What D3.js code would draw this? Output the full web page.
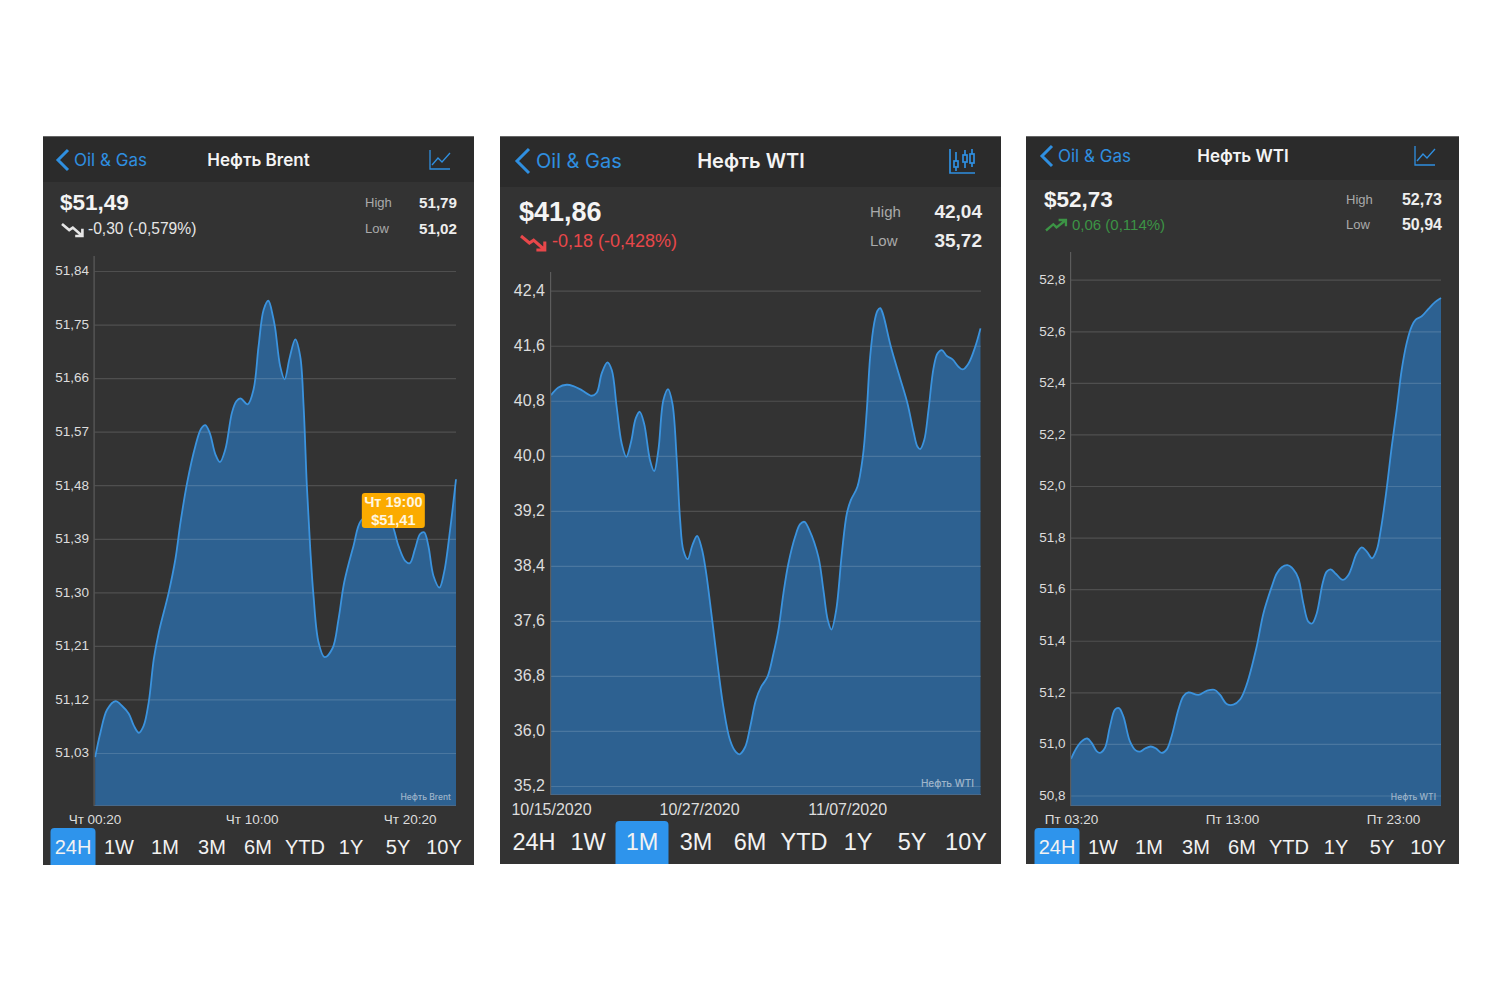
<!DOCTYPE html>
<html>
<head>
<meta charset="utf-8">
<script src="https://cdn.jsdelivr.net/npm/d3@7"></script>
<style>
  html, body { margin: 0; background: #fff; }
  svg { display: block; font-family: "Liberation Sans", Arial, sans-serif; }
  .nav { font-family: Inter, sans-serif; }
</style>
</head>
<body>
<svg id="chart" width="1500" height="1000"></svg>
<script>
const rangeButtons = ['24H', '1W', '1M', '3M', '6M', 'YTD', '1Y', '5Y', '10Y'];

// Brent, hours after 00:20
const brentHours = [0.04, 0.37, 0.78, 1.29, 1.7, 2.11, 2.42, 2.73, 3.03, 3.34, 3.65, 3.96, 4.57, 4.98, 5.29, 5.7, 6.21, 6.56, 6.82, 7.09, 7.44, 7.72, 8.05, 8.46, 8.73, 8.98, 9.43, 9.79, 10.1, 10.41, 10.7, 10.98, 11.13, 11.43, 11.7, 12.01, 12.36, 12.66, 12.87, 13.07, 13.28, 13.48, 13.79, 14.16, 14.65, 15.02, 15.37, 15.94, 16.39, 17.17, 17.79, 18.3, 18.71, 19.12, 19.41, 19.73, 20.04, 20.29, 20.55, 20.86, 21.23, 21.52, 21.89, 22.25];
const brentValues = [51.023, 51.065, 51.103, 51.117, 51.109, 51.096, 51.076, 51.064, 51.076, 51.116, 51.188, 51.233, 51.3, 51.356, 51.417, 51.484, 51.546, 51.575, 51.581, 51.568, 51.532, 51.519, 51.54, 51.602, 51.621, 51.626, 51.616, 51.641, 51.714, 51.775, 51.79, 51.764, 51.742, 51.68, 51.658, 51.694, 51.725, 51.697, 51.613, 51.479, 51.373, 51.294, 51.216, 51.191, 51.206, 51.255, 51.317, 51.378, 51.42, 51.435, 51.433, 51.415, 51.378, 51.353, 51.349, 51.373, 51.398, 51.401, 51.378, 51.328, 51.308, 51.334, 51.406, 51.49];
const brentTicks = [51.03, 51.12, 51.21, 51.30, 51.39, 51.48, 51.57, 51.66, 51.75, 51.84];
const brentDateTicks = [0, 9.67, 19.4];
const brentDateLabels = ['Чт 00:20', 'Чт 10:00', 'Чт 20:20'];

// WTI month view, days after 10/15
const wtiMonthDays = [0, 0.57, 1.22, 1.74, 2.38, 3.16, 3.55, 3.94, 4.38, 4.72, 5.1, 5.49, 5.85, 6.22, 6.58, 6.89, 7.23, 7.69, 8.01, 8.34, 8.73, 9.09, 9.43, 9.77, 10.03, 10.28, 10.62, 10.98, 11.35, 11.71, 12.02, 12.49, 13, 13.39, 13.91, 14.35, 14.64, 15.08, 15.47, 15.91, 16.32, 16.81, 17.28, 17.66, 18.05, 18.44, 18.96, 19.35, 19.69, 20.07, 20.77, 21.16, 21.5, 21.78, 22.15, 22.59, 22.98, 23.29, 23.8, 24.22, 24.53, 24.79, 25.1, 25.36, 25.57, 25.77, 26.4, 27.12, 27.69, 28.16, 28.47, 28.68, 28.99, 29.32, 29.71, 30.02, 30.36, 30.75, 31.19, 31.65, 31.99, 32.43, 32.95, 33.36];
const wtiMonthValues = [40.882, 40.994, 41.033, 41.013, 40.955, 40.873, 40.916, 41.198, 41.358, 41.246, 40.713, 40.18, 39.985, 40.204, 40.543, 40.64, 40.47, 39.937, 39.777, 40.082, 40.81, 40.97, 40.761, 39.937, 39.064, 38.628, 38.497, 38.7, 38.836, 38.652, 38.337, 37.658, 36.882, 36.349, 35.864, 35.695, 35.661, 35.767, 36.058, 36.446, 36.64, 36.785, 37.125, 37.464, 37.998, 38.434, 38.822, 39.006, 39.04, 38.919, 38.531, 38.046, 37.61, 37.474, 37.755, 38.58, 39.161, 39.355, 39.549, 39.985, 40.664, 41.44, 41.925, 42.109, 42.148, 42.07, 41.585, 41.125, 40.761, 40.349, 40.131, 40.097, 40.228, 40.664, 41.27, 41.488, 41.537, 41.45, 41.401, 41.295, 41.256, 41.343, 41.585, 41.852];
const wtiMonthTicks = [35.2, 36.0, 36.8, 37.6, 38.4, 39.2, 40.0, 40.8, 41.6, 42.4];
const wtiMonthDateTicks = [0, 11.5, 23];
const wtiMonthDateLabels = ['10/15/2020', '10/27/2020', '11/07/2020'];

// WTI day view, hours after 03:20
const wtiDayHours = [0, 0.35, 0.66, 1.01, 1.28, 1.59, 1.8, 2.11, 2.42, 2.73, 2.98, 3.25, 3.66, 4.02, 4.29, 4.6, 4.95, 5.26, 5.63, 5.94, 6.25, 6.67, 6.98, 7.29, 7.91, 8.43, 8.9, 9.25, 9.67, 10.08, 10.5, 10.91, 11.53, 11.95, 12.47, 12.78, 13.09, 13.44, 13.81, 14.12, 14.43, 14.74, 14.97, 15.26, 15.63, 15.88, 16.13, 16.46, 16.88, 17.23, 17.75, 18.06, 18.37, 18.7, 18.99, 19.24, 19.57, 19.92, 20.23, 20.54, 20.85, 21.16, 21.41, 21.78, 22.2, 22.61, 22.98];
const wtiDayValues = [50.942, 50.985, 51.01, 51.021, 51.004, 50.972, 50.965, 50.985, 51.068, 51.133, 51.139, 51.107, 51.01, 50.975, 50.97, 50.982, 50.99, 50.983, 50.965, 50.978, 51.03, 51.133, 51.185, 51.2, 51.19, 51.206, 51.21, 51.191, 51.155, 51.152, 51.172, 51.23, 51.377, 51.506, 51.61, 51.661, 51.685, 51.693, 51.677, 51.642, 51.545, 51.474, 51.467, 51.506, 51.623, 51.668, 51.677, 51.659, 51.636, 51.655, 51.739, 51.762, 51.746, 51.72, 51.752, 51.83, 51.972, 52.153, 52.296, 52.451, 52.555, 52.619, 52.645, 52.658, 52.687, 52.713, 52.729];
const wtiDayTicks = [50.8, 51.0, 51.2, 51.4, 51.6, 51.8, 52.0, 52.2, 52.4, 52.6, 52.8];
const wtiDayDateTicks = [0, 10, 20];
const wtiDayDateLabels = ['Пт 03:20', 'Пт 13:00', 'Пт 23:00'];

const BLUE = '#2f8fe0';
const lineIcon = 'M0 0V19H20 M2 15L8 8L12 12L20 3';
const trendDown = 'M0 0L6 5L9 3L17 10 M17 4V10H11';
const trendUp = 'M0 10L7 4L10 7L19 0 M12 0H19V6';

const svg = d3.select('#chart');
const comma = s => String(s).replace('.', ',');

// one phone screen
function drawPanel(p) {
  const g = svg.append('g');
  const f = p.fonts;

  g.append('rect').attr('x', p.x0).attr('y', 136).attr('width', p.x1 - p.x0).attr('height', p.y1 - 136).attr('fill', '#333333');
  g.append('rect').attr('x', p.x0).attr('y', 136).attr('width', p.x1 - p.x0).attr('height', p.headerBottom - 136).attr('fill', '#2b2b2b');
  g.append('rect').attr('x', p.x0).attr('y', 136).attr('width', p.x1 - p.x0).attr('height', 1).attr('fill', '#666');

  // nav bar
  g.append('path').attr('d', `M${p.back[0] + p.back[2]} ${p.back[1] - p.back[3]}L${p.back[0]} ${p.back[1]}L${p.back[0] + p.back[2]} ${p.back[1] + p.back[3]}`)
    .attr('fill', 'none').attr('stroke', BLUE).attr('stroke-width', 3);
  g.append('text').attr('class', 'nav').attr('x', p.backText).attr('y', p.navY).attr('dy', '0.35em').attr('font-size', f.nav).attr('fill', BLUE).text('Oil & Gas');
  g.append('text').attr('class', 'nav').attr('x', p.titleX).attr('y', p.navY).attr('dy', '0.35em').attr('text-anchor', 'middle').attr('font-size', f.nav).attr('font-weight', 600).attr('fill', '#f4f4f4').text(p.title);

  if (p.candles) {
    const ic = g.append('g').attr('transform', `translate(${p.iconX},${p.iconY})`).attr('fill', 'none').attr('stroke', BLUE).attr('stroke-width', 1.7);
    ic.append('path').attr('d', 'M0 0V24H25');
    [[6, 12, 6, 3, 22], [15, 6, 7, 1, 19], [22, 5, 9, 0, 18]].forEach(c => {
      ic.append('path').attr('d', `M${c[0]} ${c[3]}V${c[4]}`);
      ic.append('rect').attr('x', c[0] - 2).attr('y', c[1]).attr('width', 4).attr('height', c[2]).attr('fill', '#2b2b2b');
    });
  } else {
    g.append('path').attr('transform', `translate(${p.iconX},${p.iconY})`).attr('d', lineIcon).attr('fill', 'none').attr('stroke', BLUE).attr('stroke-width', 1.3);
  }

  // quote block
  g.append('text').attr('x', p.priceX).attr('y', p.priceY).attr('dy', '0.33em').attr('font-size', f.price).attr('font-weight', 700).attr('fill', '#f4f4f4').text(p.price);
  g.append('path').attr('transform', `translate(${p.priceX + 2},${p.changeY - 5}) scale(${p.arrowScale})`).attr('d', p.up ? trendUp : trendDown)
    .attr('fill', 'none').attr('stroke', p.changeColor).attr('stroke-width', 2.2);
  g.append('text').attr('x', p.changeX).attr('y', p.changeY).attr('dy', '0.35em').attr('font-size', f.change).attr('fill', p.changeColor).text(p.change);
  [['High', p.high, p.priceY], ['Low', p.low, p.changeY]].forEach(r => {
    g.append('text').attr('x', p.hiLoX).attr('y', r[2]).attr('dy', '0.3em').attr('font-size', f.hiLo).attr('fill', '#aaaaaa').text(r[0]);
    g.append('text').attr('x', p.plotR + 1).attr('y', r[2]).attr('dy', '0.32em').attr('text-anchor', 'end').attr('font-size', f.hiLoValue).attr('font-weight', 700).attr('fill', '#eeeeee').text(r[1]);
  });

  // scales
  const x = d3.scaleLinear().domain([0, p.xMax]).range([p.plotL, p.plotR]);
  const y = d3.scaleLinear().domain([p.ticks[0], p.ticks[p.ticks.length - 1]]).range([p.yLow, p.yHigh]);
  const rows = p.xs.map((d, i) => [d, p.values[i]]);

  const area = d3.area().x(d => x(d[0])).y0(p.plotB).y1(d => y(d[1])).curve(d3.curveCatmullRom.alpha(0.5));
  const line = d3.line().x(d => x(d[0])).y(d => y(d[1])).curve(d3.curveCatmullRom.alpha(0.5));

  g.append('path').attr('d', area(rows)).attr('fill', '#2d6191');

  // grid + y labels
  const yAxis = g.append('g').attr('transform', `translate(${p.plotL},0)`)
    .call(d3.axisLeft(y).tickValues(p.ticks).tickSize(-(p.plotR - p.plotL)).tickPadding(p.yPad).tickFormat(d => comma(d.toFixed(p.decimals))));
  yAxis.select('.domain').remove();
  yAxis.selectAll('line').attr('stroke', '#fff').attr('stroke-opacity', 0.14).attr('stroke-width', 1.2);
  yAxis.selectAll('text').attr('dy', '0.28em').attr('font-size', f.tick).attr('font-family', '"Liberation Sans"').attr('fill', '#dddddd');

  g.append('path').attr('d', line(rows)).attr('fill', 'none').attr('stroke', '#3b93de').attr('stroke-width', 1.8);
  g.append('rect').attr('x', p.plotL - 1).attr('y', p.plotTop).attr('width', 1.2).attr('height', p.plotB - p.plotTop).attr('fill', '#5c5c5c');
  g.append('rect').attr('x', p.plotL).attr('y', p.plotB - 1).attr('width', p.plotR - p.plotL).attr('height', 1).attr('fill', '#48698a');

  // x labels
  const xAxis = g.append('g').attr('transform', `translate(0,${p.plotB})`)
    .call(d3.axisBottom(x).tickValues(p.dateTicks).tickSize(0).tickPadding(p.xPad).tickFormat((d, i) => p.dateLabels[i]));
  xAxis.select('.domain').remove();
  xAxis.selectAll('text').attr('font-size', f.tick).attr('font-family', '"Liberation Sans"').attr('fill', '#dddddd');

  g.append('text').attr('class', 'nav').attr('x', p.plotR - p.markInset).attr('y', p.plotB - p.markUp).attr('text-anchor', 'end').attr('font-size', f.mark).attr('font-weight', 500).attr('fill', '#9fb5ca').text(p.title);

  // tooltip sits on the selected point
  if (p.tip) {
    const tx = x(p.tip.at) - 4.5, ty = y(p.tip.value);
    g.append('rect').attr('x', tx - 31.5).attr('y', ty - 34).attr('width', 63).attr('height', 35).attr('rx', 3).attr('fill', '#fbab00');
    [[p.tip.time, -25], [p.tip.text, -7]].forEach(t => {
      g.append('text').attr('x', tx).attr('y', ty + t[1]).attr('dy', '0.35em').attr('text-anchor', 'middle').attr('font-size', 14.5).attr('font-weight', 700).attr('fill', '#fff6e0').text(t[0]);
    });
  }

  // range selector
  const hi = p.buttons[p.active];
  g.append('path').attr('d', `M${hi - p.btnW / 2} ${p.y1}V${p.btnTop + 4}q0 -4 4 -4H${hi + p.btnW / 2 - 4}q4 0 4 4V${p.y1}Z`).attr('fill', '#2e94ec');
  rangeButtons.forEach((b, i) => {
    g.append('text').attr('x', p.buttons[i]).attr('y', p.btnY).attr('dy', '0.33em').attr('text-anchor', 'middle')
      .attr('font-size', f.button).attr('fill', '#f2f2f2').text(b);
  });
}

drawPanel({
  x0: 43, x1: 474, y1: 865, headerBottom: 182, navY: 160, back: [58, 160, 10, 10], backText: 74, titleX: 258.5, title: 'Нефть Brent', iconX: 430, iconY: 150,
  priceX: 60, priceY: 203, changeX: 88, changeY: 229, hiLoX: 365, price: '$51,49', change: '-0,30 (-0,579%)', high: '51,79', low: '51,02', up: false, changeColor: '#e6e6e6', arrowScale: 1.2,
  plotL: 94.5, plotR: 456, plotTop: 256, plotB: 806, yLow: 753, yHigh: 271,
  xs: brentHours, values: brentValues, xMax: 22.25, ticks: brentTicks, decimals: 2, dateTicks: brentDateTicks, dateLabels: brentDateLabels, xPad: 8, yPad: 5.5,
  markInset: 5, markUp: 6, tip: { at: 18.67, value: 51.41, time: 'Чт 19:00', text: '$51,41' },
  buttons: [73, 119, 165, 212, 258, 305, 351, 398, 444], active: 0, btnW: 45, btnTop: 828, btnY: 847,
  fonts: { nav: 17, price: 22.5, change: 15.6, hiLo: 13, hiLoValue: 15.2, tick: 13.5, mark: 8.5, button: 20 }
});

drawPanel({
  x0: 500, x1: 1001, y1: 864, headerBottom: 187, navY: 161, back: [517, 161, 12, 12], backText: 536, titleX: 751, title: 'Нефть WTI', iconX: 950, iconY: 149, candles: true,
  priceX: 519, priceY: 212, changeX: 552, changeY: 241, hiLoX: 870, price: '$41,86', change: '-0,18 (-0,428%)', high: '42,04', low: '35,72', up: false, changeColor: '#e8474a', arrowScale: 1.4,
  plotL: 551, plotR: 981, plotTop: 272, plotB: 795, yLow: 786, yHigh: 290.7,
  xs: wtiMonthDays, values: wtiMonthValues, xMax: 33.4, ticks: wtiMonthTicks, decimals: 1, dateTicks: wtiMonthDateTicks, dateLabels: wtiMonthDateLabels, xPad: 9, yPad: 6,
  markInset: 7, markUp: 8,
  buttons: [534, 588, 642, 696, 750, 804, 858, 912, 966], active: 2, btnW: 53, btnTop: 821, btnY: 842,
  fonts: { nav: 20, price: 27, change: 18, hiLo: 15, hiLoValue: 19, tick: 16, mark: 10, button: 23.5 }
});

drawPanel({
  x0: 1026, x1: 1459, y1: 864, headerBottom: 180, navY: 156, back: [1042, 156, 10, 10], backText: 1058, titleX: 1243, title: 'Нефть WTI', iconX: 1415, iconY: 146,
  priceX: 1044, priceY: 200, changeX: 1072, changeY: 225, hiLoX: 1346, price: '$52,73', change: '0,06 (0,114%)', high: '52,73', low: '50,94', up: true, changeColor: '#3c9445', arrowScale: 1.05,
  plotL: 1071, plotR: 1441, plotTop: 252, plotB: 806, yLow: 795.5, yHigh: 279.7,
  xs: wtiDayHours, values: wtiDayValues, xMax: 22.98, ticks: wtiDayTicks, decimals: 1, dateTicks: wtiDayDateTicks, dateLabels: wtiDayDateLabels, xPad: 8, yPad: 5.5,
  markInset: 5, markUp: 6,
  buttons: [1057, 1103, 1149, 1196, 1242, 1289, 1336, 1382, 1428], active: 0, btnW: 45, btnTop: 828, btnY: 847,
  fonts: { nav: 17, price: 22.5, change: 15, hiLo: 13, hiLoValue: 16, tick: 13.5, mark: 8.5, button: 20 }
});
</script>
</body>
</html>
